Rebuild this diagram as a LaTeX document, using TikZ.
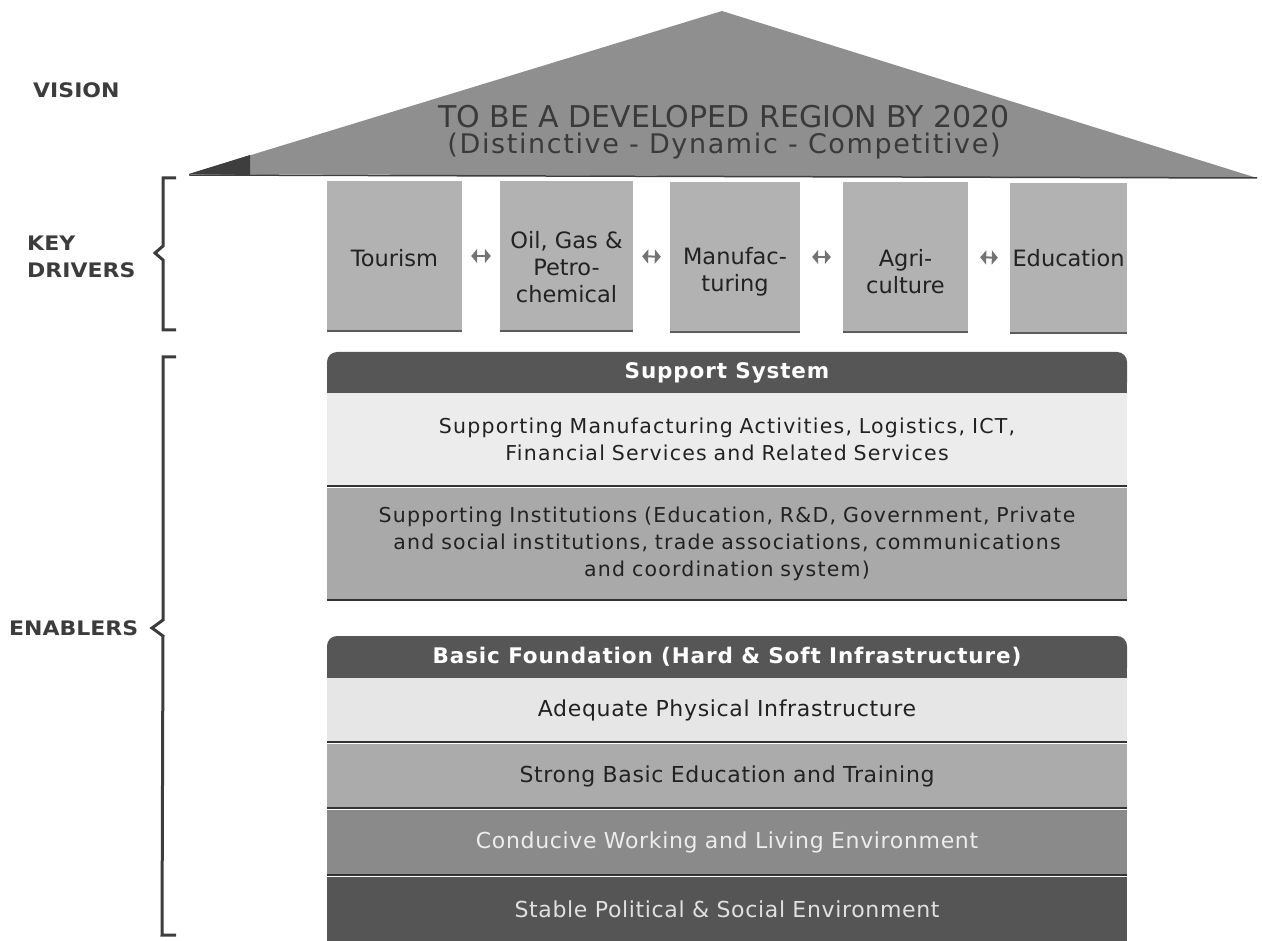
\documentclass[tikz,border=0pt]{standalone}
\usepackage{fontspec}
\usepackage{graphicx}
\setmainfont{DejaVu Sans}
\newfontfamily\spfont[LetterSpace=6]{DejaVu Sans}
\newfontfamily\fdfont[LetterSpace=3]{DejaVu Sans}
\newfontfamily\hdfont[LetterSpace=4]{DejaVu Sans}
\newfontfamily\rfontb[LetterSpace=6]{DejaVu Sans}
\usetikzlibrary{arrows.meta}
\definecolor{roofcol}{HTML}{8F8F8F}
\definecolor{roofdark}{HTML}{3E3E3E}
\definecolor{rooftxt}{HTML}{3A3A3A}
\definecolor{drvcol}{HTML}{B2B2B2}
\definecolor{hdcol}{HTML}{565656}
\definecolor{lightcol}{HTML}{ECECEC}
\definecolor{midcol}{HTML}{A9A9A9}
\definecolor{adqcol}{HTML}{E6E6E6}
\definecolor{strcol}{HTML}{ABABAB}
\definecolor{concol}{HTML}{8A8A8A}
\definecolor{stbcol}{HTML}{555555}
\definecolor{txtcol}{HTML}{222222}
\definecolor{lblcol}{HTML}{3C3C3C}
\definecolor{sepcol}{HTML}{333333}
\begin{document}
\begin{tikzpicture}[x=1pt,y=-1pt,
  driver/.style={fill=drvcol, minimum height=150pt, inner sep=0pt},
  dtext/.style={inner sep=0pt, align=center, text=txtcol, font=\fontsize{22.5}{27}\selectfont},
  edgeline/.style={draw=sepcol!80, line width=2pt},
  dbl/.style={draw=black!55, line width=2pt, {Triangle[width=14pt,length=6pt]}-{Triangle[width=14pt,length=6pt]},
    shorten <=9pt, shorten >=9pt},
  dblw/.style={dbl, shorten <=12pt, shorten >=12pt},
  hdr/.style={fill=hdcol, rounded corners=10pt, minimum width=800pt, minimum height=41pt, inner sep=0pt,
    text=white, font=\hdfont\bfseries\fontsize{21.5}{25}\selectfont},
  band/.style={text width=800pt, inner sep=0pt, align=center},
  sptext/.style={font=\spfont\fontsize{20.5}{27}\selectfont},
  fdtext/.style={font=\fdfont\fontsize{22}{26}\selectfont},
  sep/.style={draw=sepcol, line width=2pt},
  lbl/.style={text=lblcol, font=\bfseries\fontsize{20}{27}\selectfont, inner sep=0pt},
  brk/.style={draw=lblcol, line width=3pt}]
\useasboundingbox (0,0) rectangle (1262,941);

% Roof
\fill[roofcol] (189,174) -- (722,11) -- (1257,178) -- cycle;
\fill[roofdark] (189,174) -- (250,155) -- (250,175) -- cycle;
\draw[roofdark, line width=1.5pt] (189,175) -- (1257,178);
\node[text=rooftxt, font=\fontsize{30}{34}\selectfont, inner sep=0pt] (v1) at (724,117) {TO BE A DEVELOPED REGION BY 2020};
\node[text=rooftxt, font=\rfontb\fontsize{27}{30}\selectfont, inner sep=0pt] (v2) at (724,146) {(Distinctive - Dynamic - Competitive)};

% Key drivers
\node[driver, minimum width=135pt] (tour) at (394.5,256) {};
\node[driver, minimum width=133pt] (oil) at (566.5,256) {};
\node[driver, minimum width=130pt] (man) at (735,257) {};
\node[driver, minimum width=125pt] (agr) at (905.5,257) {};
\node[driver, minimum width=117pt] (edu) at (1068.5,258) {};
\node[dtext] (tourt) at (394.5,258) {Tourism};
\node[dtext] (oilt) at (566.5,267) {Oil, Gas \&\\Petro-\\chemical};
\node[dtext] (mant) at (735,272) {Manufac-\\turing};
\node[dtext] (agrt) at (905.5,272) {Agri-\\culture};
\node[dtext] (edut) at (1068.5,258) {Education};
\foreach \n in {tour,oil,man,agr,edu}{\draw[edgeline] (\n.south west) -- (\n.south east);}
\draw[dbl] (tour.east) -- (oil.west);
\draw[dbl] (oil.east) -- (man.west);
\draw[dblw] (man.east) -- (agr.west);
\draw[dblw] (agr.east) -- (edu.west);

% Support system
\fill[hdcol] (327,383) rectangle (1127,393);
\node[hdr] (ss) at (727,372.5) {Support System};
\node[band, sptext, fill=lightcol, minimum height=93pt, text=txtcol] (sm) at (727,439.5)
  {Supporting Manufacturing Activities, Logistics, ICT,\\Financial Services and Related Services};
\node[band, sptext, fill=midcol, minimum height=112pt, text=txtcol] (si) at (727,544)
  {Supporting Institutions (Education, R\&D, Government, Private\\and social institutions, trade associations, communications\\and coordination system)};
\draw[sep] (sm.south west) -- (sm.south east);
\draw[sep] (si.south west) -- (si.south east);

% Basic foundation
\fill[hdcol] (327,668) rectangle (1127,678);
\node[hdr, minimum height=42pt] (bf) at (727,657) {Basic Foundation (Hard \& Soft Infrastructure)};
\node[band, fdtext, fill=adqcol, minimum height=64pt, text=txtcol] (adq) at (727,710) {Adequate Physical Infrastructure};
\node[band, fdtext, fill=strcol, minimum height=64pt, text=txtcol] (str) at (727,776) {Strong Basic Education and Training};
\node[band, fdtext, fill=concol, minimum height=65pt, text=white!93!black] (con) at (727,842.5) {Conducive Working and Living Environment};
\node[band, fdtext, fill=stbcol, minimum height=64pt, text=white!88!black] (stb) at (727,909) {Stable Political \& Social Environment};
\draw[sep] (adq.south west) -- (adq.south east);
\draw[sep] (str.south west) -- (str.south east);
\draw[sep] (con.south west) -- (con.south east);

% Left labels and brackets
\node[lbl, anchor=west] (vis) at (33,90) {\scalebox{1.1}[1]{VISION}};
\node[lbl, anchor=west, align=left] (kd) at (27,257) {\scalebox{1.1}[1]{KEY}\\\scalebox{1.1}[1]{DRIVERS}};
\node[lbl, anchor=west] (en) at (9,628) {\scalebox{1.1}[1]{ENABLERS}};
\draw[brk] (176,178) -- (163,178) -- (163,246) -- (155,253) -- (163,260) -- (163,330) -- (176,330);
\draw[brk] (176,357) -- (163,357) -- (163,620) -- (152,628) -- (163,636) -- (162,935) -- (176,935);
\end{tikzpicture}
\end{document}
